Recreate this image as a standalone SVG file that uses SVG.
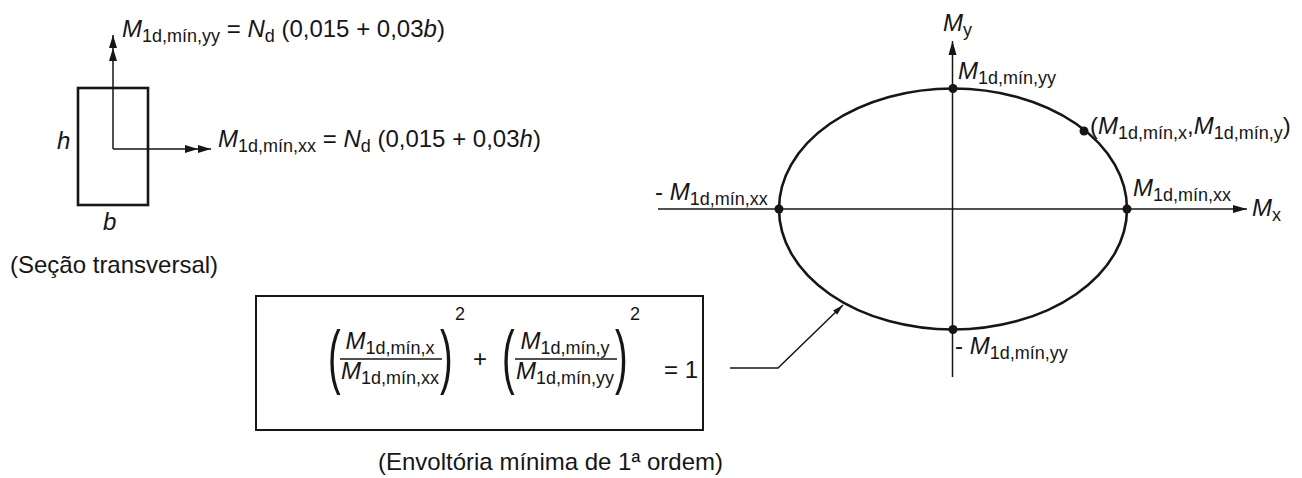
<svg xmlns="http://www.w3.org/2000/svg" width="1302" height="478" viewBox="0 0 1302 478">
<defs>
<style>
.t{font-family:"Liberation Sans",Arial,Helvetica,sans-serif;font-size:24px;fill:#161616}
.i{font-style:italic}
.s{font-size:18px}
.ln{stroke:#161616;fill:none;stroke-width:1.5}
.thick{stroke:#161616;fill:none;stroke-width:2.6}
.dot{fill:#161616}
.par{font-size:38px}
</style>
<marker id="dbl" markerUnits="userSpaceOnUse" markerWidth="28" markerHeight="10" refX="26" refY="5" orient="auto">
<path d="M0,1 L13,5 L0,9 Z M13,1 L26,5 L13,9 Z" fill="#161616"/>
</marker>
<marker id="ax" markerUnits="userSpaceOnUse" markerWidth="16" markerHeight="10" refX="14" refY="5" orient="auto">
<path d="M0,1 L14,5 L0,9 Z" fill="#161616"/>
</marker>
<marker id="sm" markerUnits="userSpaceOnUse" markerWidth="12" markerHeight="8" refX="11" refY="4" orient="auto">
<path d="M0,1 L11,4 L0,7 Z" fill="#161616"/>
</marker>
</defs>
<rect width="1302" height="478" fill="#ffffff"/>

<g id="section">
<rect x="78" y="88" width="70" height="117" class="thick"/>
<text class="t i" x="57" y="149">h</text>
<text class="t i" x="103" y="230">b</text>
<text class="t" x="10" y="273">(Seção transversal)</text>
</g>

<g id="moment-labels">
<text class="t" x="122" y="37"><tspan class="i">M</tspan><tspan class="s" dy="5">1d,mín,yy</tspan><tspan dy="-5"> = </tspan><tspan class="i">N</tspan><tspan class="s" dy="5">d</tspan><tspan dy="-5"> (0,015 + 0,03</tspan><tspan class="i">b</tspan>)</text>
<text class="t" x="218" y="147"><tspan class="i">M</tspan><tspan class="s" dy="5">1d,mín,xx</tspan><tspan dy="-5"> = </tspan><tspan class="i">N</tspan><tspan class="s" dy="5">d</tspan><tspan dy="-5"> (0,015 + 0,03</tspan><tspan class="i">h</tspan>)</text>
</g>

<g id="envelope">
<ellipse cx="953" cy="209" rx="174" ry="120.5" class="thick"/>
<circle class="dot" cx="953" cy="88.5" r="4.5"/>
<circle class="dot" cx="779" cy="209" r="4.5"/>
<circle class="dot" cx="1127" cy="209" r="4.5"/>
<circle class="dot" cx="953" cy="329.5" r="4.5"/>
<circle class="dot" cx="1084" cy="131" r="4.5"/>
<text class="t" x="943" y="31"><tspan class="i">M</tspan><tspan class="s" dy="5">y</tspan></text>
<text class="t" x="1252" y="216"><tspan class="i">M</tspan><tspan class="s" dy="5">x</tspan></text>
<text class="t" x="958" y="79"><tspan class="i">M</tspan><tspan class="s" dy="5">1d,mín,yy</tspan></text>
<text class="t" x="655" y="200">- <tspan class="i">M</tspan><tspan class="s" dy="5">1d,mín,xx</tspan></text>
<text class="t" x="1133" y="196"><tspan class="i">M</tspan><tspan class="s" dy="5">1d,mín,xx</tspan></text>
<text class="t" x="955" y="354">- <tspan class="i">M</tspan><tspan class="s" dy="5">1d,mín,yy</tspan></text>
<text class="t" x="1090" y="134">(<tspan class="i">M</tspan><tspan class="s" dy="5">1d,mín,x</tspan><tspan dy="-5">,</tspan><tspan class="i">M</tspan><tspan class="s" dy="5">1d,mín,y</tspan><tspan dy="-5">)</tspan></text>
</g>

<g id="equation">
<rect x="256" y="296" width="447" height="134" fill="none" stroke="#161616" stroke-width="2"/>
<text class="t par" transform="translate(328,380) scale(1,1.85)">(</text>
<text class="t par" transform="translate(440,380) scale(1,1.85)">)</text>
<text class="t par" transform="translate(502,380) scale(1,1.85)">(</text>
<text class="t par" transform="translate(615,380) scale(1,1.85)">)</text>
<text class="t" x="390" y="349" text-anchor="middle"><tspan class="i">M</tspan><tspan class="s" dy="5">1d,mín,x</tspan></text>
<line x1="340" y1="359" x2="442" y2="359" stroke="#161616" stroke-width="1.3"/>
<text class="t" x="390" y="379" text-anchor="middle"><tspan class="i">M</tspan><tspan class="s" dy="5">1d,mín,xx</tspan></text>
<text class="t s" x="455" y="320">2</text>
<text class="t" x="473" y="367">+</text>
<text class="t" x="565" y="349" text-anchor="middle"><tspan class="i">M</tspan><tspan class="s" dy="5">1d,mín,y</tspan></text>
<line x1="515" y1="359" x2="617" y2="359" stroke="#161616" stroke-width="1.3"/>
<text class="t" x="565" y="379" text-anchor="middle"><tspan class="i">M</tspan><tspan class="s" dy="5">1d,mín,yy</tspan></text>
<text class="t s" x="630" y="320">2</text>
<text class="t" x="664" y="378">= 1</text>
<text class="t" x="378" y="470">(Envoltória mínima de 1ª ordem)</text>
</g>

<g id="connectors">
<line x1="113" y1="149" x2="113" y2="35" class="ln" marker-end="url(#dbl)"/>
<line x1="113" y1="149" x2="211" y2="149" class="ln" marker-end="url(#dbl)"/>
<line x1="658" y1="209" x2="1247" y2="209" class="ln" marker-end="url(#ax)"/>
<line x1="952.5" y1="377" x2="952.5" y2="41" class="ln" marker-end="url(#ax)"/>
<polyline points="730,368 778,368 843,305" class="ln" stroke-width="1.2" marker-end="url(#sm)"/>
</g>
</svg>
